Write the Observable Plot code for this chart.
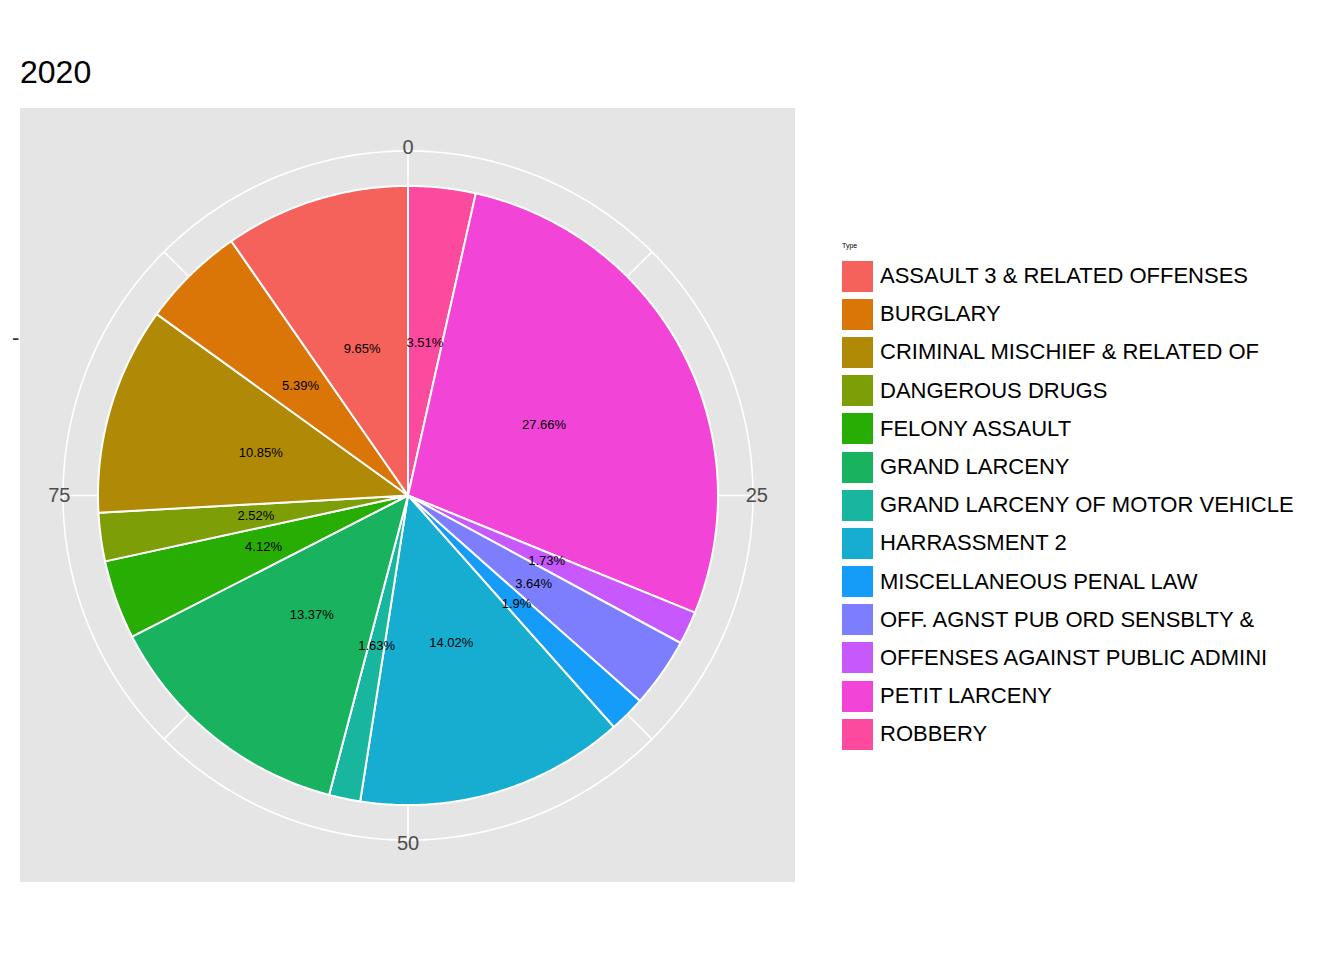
<!DOCTYPE html>
<html>
<head>
<meta charset="utf-8">
<script src="https://cdn.jsdelivr.net/npm/d3@7"></script>
<script src="https://cdn.jsdelivr.net/npm/@observablehq/plot@0.6"></script>
<style>
  body { margin: 0; background: #fff; font-family: "Liberation Sans", Arial, sans-serif; }
  #wrap { position: relative; width: 1344px; height: 960px; }
  #title { position: absolute; left: 20px; top: 54px; font-size: 32px; color: #000; }
  #chart { position: absolute; left: 20px; top: 108px; }
  #legend { position: absolute; left: 842px; top: 242px; }
  #legend .ttl { font-size: 7px; margin-bottom: 8px; }
  #legend .row { display: flex; align-items: center; height: 38.2px; }
  #legend .sw { width: 31px; height: 31px; margin-right: 7px; }
  #legend .lab { font-size: 22px; color: #000; }
  #ylab { position: absolute; left: 12px; top: 325px; font-size: 22px; color: #333; }
</style>
</head>
<body>
<div id="wrap">
  <div id="title">2020</div>
  <div id="ylab">-</div>
  <div id="chart"></div>
  <div id="legend"></div>
</div>
<script>
// clockwise from 12 o'clock, as drawn
const types = ["ROBBERY", "PETIT LARCENY", "OFFENSES AGAINST PUBLIC ADMINI", "OFF. AGNST PUB ORD SENSBLTY &",
  "MISCELLANEOUS PENAL LAW", "HARRASSMENT 2", "GRAND LARCENY OF MOTOR VEHICLE", "GRAND LARCENY",
  "FELONY ASSAULT", "DANGEROUS DRUGS", "CRIMINAL MISCHIEF & RELATED OF", "BURGLARY", "ASSAULT 3 & RELATED OFFENSES"];
const shares = [3.51, 27.66, 1.73, 3.64, 1.9, 14.02, 1.63, 13.37, 4.12, 2.52, 10.85, 5.39, 9.65];
const colors = ["#FC4A9E", "#F244D6", "#C758FC", "#7D7EFD", "#149CF8", "#17ADD0", "#18B69F", "#19B35F",
  "#27AD04", "#7E9E07", "#B08A06", "#DA7508", "#F5625C"];
const ticks = [0, 25, 50, 75];

const total = d3.sum(shares);
const ang = v => v / total * 2 * Math.PI;
const gridR = 1.113;

// slice outlines
const slices = [];
const labels = [];
let cum = 0;
shares.forEach((s, i) => {
  const a0 = ang(cum), a1 = ang(cum + s);
  slices.push({type: types[i], x: 0, y: 0});
  const n = Math.max(4, Math.ceil((a1 - a0) / 0.01));
  for (let k = 0; k <= n; k++) {
    const a = a0 + (a1 - a0) * k / n;
    slices.push({type: types[i], x: Math.sin(a), y: Math.cos(a)});
  }
  slices.push({type: types[i], x: 0, y: 0});
  const am = (a0 + a1) / 2;
  labels.push({x: 0.495 * Math.sin(am), y: 0.495 * Math.cos(am), text: s + "%"});
  cum += s;
});

const circle = d3.range(0, 361).map(d => ({x: gridR * Math.sin(d * Math.PI / 180), y: gridR * Math.cos(d * Math.PI / 180)}));
const spokes = [];
d3.range(0, 100, 12.5).forEach(t => {
  const a = t / 100 * 2 * Math.PI;
  spokes.push({t, x: 0, y: 0}, {t, x: gridR * Math.sin(a), y: gridR * Math.cos(a)});
});
const tickLabels = ticks.map(t => {
  const a = t / 100 * 2 * Math.PI;
  return {x: 1.125 * Math.sin(a), y: 1.125 * Math.cos(a), text: String(t)};
});

const chart = Plot.plot({
  width: 775,
  height: 774,
  margin: 0,
  x: {domain: [-1.25, 1.25], axis: null},
  y: {domain: [-1.25, 1.25], axis: null},
  style: {background: "#E5E5E5", fontFamily: "Liberation Sans, Arial, sans-serif"},
  marks: [
    Plot.line(circle, {x: "x", y: "y", stroke: "white", strokeWidth: 1.6}),
    Plot.line(spokes, {x: "x", y: "y", z: "t", stroke: "white", strokeWidth: 1.6}),
    Plot.line(slices, {x: "x", y: "y", z: "type", fill: d => colors[types.indexOf(d.type)],
      stroke: "white", strokeWidth: 2, strokeLinejoin: "round"}),
    Plot.text(labels, {x: "x", y: "y", text: "text", fontSize: 13, fill: "black"}),
    Plot.text(tickLabels, {x: "x", y: "y", text: "text", fontSize: 20, fill: "#4D4D4D"})
  ]
});
document.getElementById("chart").append(chart);

// legend in alphabetical order
const legend = d3.select("#legend");
legend.append("div").attr("class", "ttl").text("Type");
types.map((t, i) => ({t, c: colors[i]}))
  .sort((a, b) => d3.ascending(a.t, b.t))
  .forEach(d => {
    const row = legend.append("div").attr("class", "row");
    row.append("div").attr("class", "sw").style("background", d.c);
    row.append("div").attr("class", "lab").text(d.t);
  });
</script>
</body>
</html>
